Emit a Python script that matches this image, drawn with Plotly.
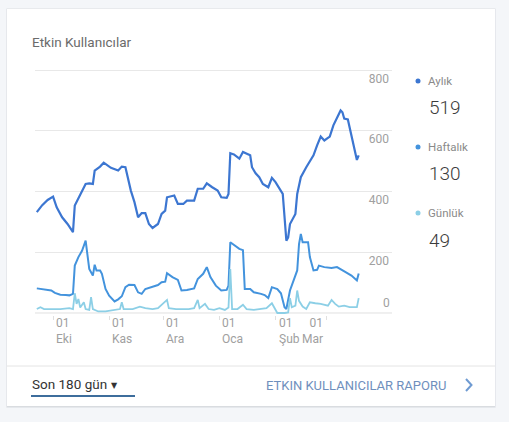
import plotly.graph_objects as go

# Etkin Kullanıcılar - son 180 gün
aylik_dates = ["2018-09-22", "2018-09-25", "2018-09-28", "2018-10-01", "2018-10-03", "2018-10-06",
               "2018-10-09", "2018-10-12", "2018-10-13", "2018-10-16", "2018-10-19", "2018-10-21",
               "2018-10-23", "2018-10-24", "2018-10-27", "2018-10-29", "2018-11-02", "2018-11-06",
               "2018-11-08", "2018-11-10", "2018-11-13", "2018-11-15", "2018-11-17", "2018-11-19",
               "2018-11-21", "2018-11-23", "2018-11-25", "2018-11-28", "2018-11-30", "2018-12-02",
               "2018-12-03", "2018-12-07", "2018-12-09", "2018-12-12", "2018-12-14", "2018-12-18",
               "2018-12-20", "2018-12-23", "2018-12-25", "2018-12-28", "2018-12-31", "2019-01-02",
               "2019-01-05", "2019-01-06", "2019-01-07", "2019-01-09", "2019-01-12", "2019-01-14",
               "2019-01-18", "2019-01-19", "2019-01-21", "2019-01-23", "2019-01-25", "2019-01-28",
               "2019-01-30", "2019-02-01", "2019-02-03", "2019-02-05", "2019-02-07", "2019-02-08",
               "2019-02-09", "2019-02-12", "2019-02-13", "2019-02-15", "2019-02-18", "2019-02-20",
               "2019-02-22", "2019-02-24", "2019-02-26", "2019-02-28", "2019-03-03", "2019-03-05",
               "2019-03-07", "2019-03-09", "2019-03-10", "2019-03-11", "2019-03-13", "2019-03-15",
               "2019-03-17", "2019-03-18", "2019-03-19"]
aylik = [332, 355, 372, 383, 348, 315, 293, 266, 354, 392, 425, 427, 425, 469, 482, 495, 478, 469,
         482, 480, 403, 365, 315, 329, 329, 293, 280, 293, 326, 337, 381, 387, 359, 359, 370, 370,
         409, 409, 427, 414, 403, 381, 379, 392, 526, 522, 508, 530, 519, 480, 460, 447, 425, 414,
         445, 431, 409, 392, 238, 249, 293, 326, 392, 447, 480, 502, 519, 552, 581, 568, 581, 618,
         645, 667, 661, 640, 637, 579, 530, 504, 519]

haftalik_dates = ["2018-09-22", "2018-09-26", "2018-09-30", "2018-10-02", "2018-10-05", "2018-10-08",
                  "2018-10-10", "2018-10-12", "2018-10-13", "2018-10-15", "2018-10-17", "2018-10-19",
                  "2018-10-20", "2018-10-21", "2018-10-22", "2018-10-23", "2018-10-24", "2018-10-25",
                  "2018-10-27", "2018-10-28", "2018-10-30", "2018-11-01", "2018-11-04", "2018-11-06",
                  "2018-11-08", "2018-11-10", "2018-11-12", "2018-11-15", "2018-11-17", "2018-11-19",
                  "2018-11-21", "2018-11-24", "2018-11-28", "2018-11-30", "2018-12-02", "2018-12-03",
                  "2018-12-06", "2018-12-09", "2018-12-11", "2018-12-14", "2018-12-18", "2018-12-20",
                  "2018-12-23", "2018-12-25", "2018-12-27", "2018-12-30", "2019-01-02", "2019-01-05",
                  "2019-01-06", "2019-01-07", "2019-01-09", "2019-01-12", "2019-01-14", "2019-01-15",
                  "2019-01-18", "2019-01-20", "2019-01-24", "2019-01-26", "2019-01-28", "2019-01-30",
                  "2019-02-02", "2019-02-04", "2019-02-06", "2019-02-07", "2019-02-09", "2019-02-11",
                  "2019-02-13", "2019-02-14", "2019-02-15", "2019-02-16", "2019-02-19", "2019-02-20",
                  "2019-02-22", "2019-02-24", "2019-02-25", "2019-02-28", "2019-03-04", "2019-03-07",
                  "2019-03-09", "2019-03-12", "2019-03-15", "2019-03-18", "2019-03-19"]
haftalik = [81, 77, 74, 66, 60, 59, 58, 63, 156, 184, 205, 238, 184, 145, 134, 123, 159, 140, 140,
            129, 79, 57, 38, 45, 55, 85, 93, 92, 68, 63, 79, 85, 92, 101, 103, 131, 118, 109, 74, 76,
            81, 112, 129, 151, 118, 90, 74, 76, 90, 233, 224, 211, 207, 79, 79, 68, 63, 59, 49, 85, 79,
            65, 19, 13, 74, 107, 140, 227, 260, 233, 233, 184, 140, 142, 156, 151, 148, 151, 145, 134,
            123, 107, 130]

gunluk_dates = ["2018-09-22", "2018-09-24", "2018-09-26", "2018-09-30", "2018-10-05", "2018-10-10",
                "2018-10-12", "2018-10-13", "2018-10-14", "2018-10-15", "2018-10-16", "2018-10-18",
                "2018-10-19", "2018-10-21", "2018-10-22", "2018-10-23", "2018-10-26", "2018-10-30",
                "2018-11-03", "2018-11-07", "2018-11-08", "2018-11-09", "2018-11-14", "2018-11-18",
                "2018-11-21", "2018-11-25", "2018-11-28", "2018-12-03", "2018-12-04", "2018-12-08",
                "2018-12-12", "2018-12-15", "2018-12-18", "2018-12-20", "2018-12-21", "2018-12-24",
                "2018-12-26", "2018-12-29", "2019-01-01", "2019-01-04", "2019-01-06", "2019-01-07",
                "2019-01-08", "2019-01-11", "2019-01-14", "2019-01-16", "2019-01-20", "2019-01-24",
                "2019-01-27", "2019-01-30", "2019-02-01", "2019-02-02", "2019-02-06", "2019-02-08",
                "2019-02-09", "2019-02-10", "2019-02-12", "2019-02-13", "2019-02-14", "2019-02-16",
                "2019-02-18", "2019-02-20", "2019-02-23", "2019-02-26", "2019-03-02", "2019-03-04",
                "2019-03-06", "2019-03-08", "2019-03-11", "2019-03-14", "2019-03-17", "2019-03-18",
                "2019-03-19"]
gunluk = [13, 19, 13, 13, 13, 16, 13, 65, 30, 46, 18, 35, 13, 10, 52, 13, 5, 5, 10, 13, 35, 13, 13,
          21, 16, 13, 16, 43, 16, 13, 13, 13, 16, 43, 16, 30, 13, 10, 16, 10, 18, 145, 13, 13, 27, 13,
          10, 13, 16, 32, 13, 0, 0, 2, 49, 19, 24, 74, 40, 21, 13, 35, 32, 30, 24, 43, 30, 21, 24, 19,
          19, 19, 49]

tick_dates = ["2018-10-01", "2018-11-01", "2018-12-01", "2019-01-01", "2019-02-01", "2019-03-01"]
tick_text = ["01<br>Eki", "01<br>Kas", "01<br>Ara", "01<br>Oca", "01<br>Şub", "01<br>Mar"]
y_ticks = [200, 400, 600, 800]

series = [
    ("Aylık", aylik_dates, aylik, "#3c76d1", 2.2),
    ("Haftalık", haftalik_dates, haftalik, "#4393dd", 2.0),
    ("Günlük", gunluk_dates, gunluk, "#8ccfe6", 1.8),
]

W, H = 509, 422
FONT = "Roboto"
GREY = "#a0a0a0"


def px(x):
    return x / W


def py(y):
    return 1 - y / H


fig = go.Figure()
for name, xs, ys, color, width in series:
    fig.add_trace(go.Scatter(x=xs, y=ys, name=name, mode="lines",
                             line=dict(color=color, width=width), hoverinfo="x+y+name"))

shapes = []
# card with a soft shadow
for off, col in [(2, "#e5e8ec"), (1, "#d9dce0")]:
    shapes.append(dict(type="rect", xref="paper", yref="paper", layer="below",
                       x0=px(7 - off * 0.3), x1=px(495 + off * 0.3),
                       y0=py(406 + off), y1=py(9 - off * 0.2),
                       fillcolor=col, line=dict(width=0)))
shapes.append(dict(type="rect", xref="paper", yref="paper", layer="below",
                   x0=px(7), x1=px(495), y0=py(406), y1=py(9),
                   fillcolor="white", line=dict(width=0)))
# divider above footer
shapes.append(dict(type="line", xref="paper", yref="paper", layer="below",
                   x0=px(7), x1=px(495), y0=py(366), y1=py(366),
                   line=dict(color="#e4e4e4", width=1)))
# underline of the dropdown
shapes.append(dict(type="line", xref="paper", yref="paper",
                   x0=px(31), x1=px(135), y0=py(396), y1=py(396),
                   line=dict(color="#3d6d9c", width=2)))
# chevron of the report link
shapes.append(dict(type="path", xref="paper", yref="paper",
                   path=f"M {px(466)},{py(379)} L {px(471.5)},{py(385)} L {px(466)},{py(391)}",
                   line=dict(color="#6f9bd2", width=2)))

annotations = [
    dict(text="Etkin Kullanıcılar", x=px(30), y=py(42), xref="paper", yref="paper",
         xanchor="left", yanchor="middle", showarrow=False,
         font=dict(family=FONT, size=13.5, color="#6b6b6b")),
    dict(text="Son 180 gün", x=px(30), y=py(384), xref="paper", yref="paper",
         xanchor="left", yanchor="middle", showarrow=False,
         font=dict(family=FONT, size=13.5, color="#333333")),
    dict(text="▼", x=px(109), y=py(385), xref="paper", yref="paper",
         xanchor="left", yanchor="middle", showarrow=False,
         font=dict(family="DejaVu Sans", size=8, color="#333333")),
    dict(text="ETKIN KULLANICILAR RAPORU", x=px(264), y=py(385), xref="paper", yref="paper",
         xanchor="left", yanchor="middle", showarrow=False,
         font=dict(family=FONT, size=13, color="#6f8fbd")),
    dict(text="0", x=px(392), y=0, xref="paper", yref="y", xanchor="right", yanchor="bottom",
         showarrow=False, yshift=1, font=dict(family=FONT, size=12, color=GREY)),
]

# x tick labels, left aligned next to the tick like the reference (last one right aligned)
for i, (d, t) in enumerate(zip(tick_dates, tick_text)):
    anchor = "right" if i == len(tick_dates) - 1 else "left"
    annotations.append(dict(text=t, x=d, y=py(314), xref="x", yref="paper",
                            xanchor=anchor, yanchor="top", align=anchor, showarrow=False,
                            xshift=1 if anchor == "left" else -1,
                            font=dict(family=FONT, size=12, color=GREY)))

# custom legend with latest values
legend_y = [81, 147, 213]
for (name, xs, ys, color, width), ly in zip(series, legend_y):
    shapes.append(dict(type="circle", xref="paper", yref="paper",
                       x0=px(415.5), x1=px(420.5), y0=py(ly + 2.5), y1=py(ly - 2.5),
                       fillcolor=color, line=dict(width=0)))
    annotations.append(dict(text=name, x=px(426), y=py(ly), xref="paper", yref="paper",
                            xanchor="left", yanchor="middle", showarrow=False,
                            font=dict(family=FONT, size=11.5, color="#8a8a8a")))
    annotations.append(dict(text=str(ys[-1]), x=px(427), y=py(ly + 27), xref="paper",
                            yref="paper", xanchor="left", yanchor="middle", showarrow=False,
                            font=dict(family=FONT, size=19, color="#3c3c3c", weight=300)))

fig.update_layout(
    width=W, height=H,
    margin=dict(l=0, r=0, t=0, b=0),
    paper_bgcolor="#f4f6f9",
    plot_bgcolor="rgba(0,0,0,0)",
    showlegend=False,
    shapes=shapes,
    annotations=annotations,
    xaxis=dict(domain=[px(35), px(392)], range=["2018-09-21", "2019-04-06 10:00"],
               tickvals=tick_dates, showticklabels=False, ticks="outside", ticklen=4,
               tickcolor="#e0e0e0", showgrid=False, zeroline=False, showline=False,
               fixedrange=True),
    yaxis=dict(domain=[py(314.8), py(68.2)], range=[-6, 806], side="right",
               tickvals=y_ticks, ticklabelposition="inside bottom",
               tickfont=dict(family=FONT, size=12, color=GREY),
               showgrid=True, gridcolor="#e8e8e8", gridwidth=1, zeroline=False,
               fixedrange=True),
)
# baseline at zero
fig.add_hline(y=0, line=dict(color="#e0e0e0", width=1), layer="below")

# the page body has a default 8px margin; remove it so the card sits where it should
fig.write_html("out.html", config={"displayModeBar": False},
               post_script="document.body.style.margin='0';")
